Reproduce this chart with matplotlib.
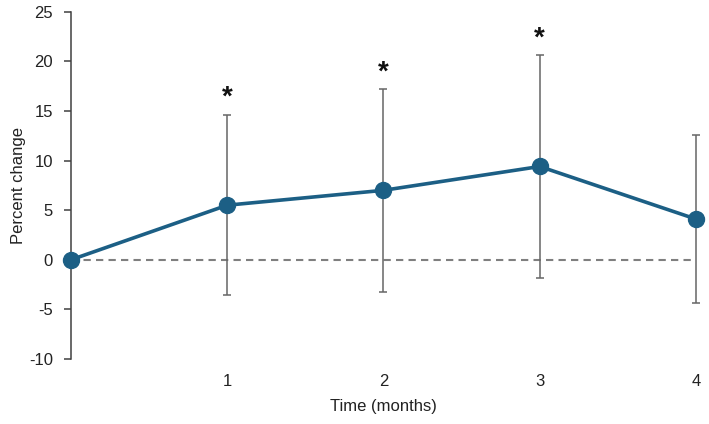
import numpy as np
import matplotlib
matplotlib.use("Agg")
import matplotlib.pyplot as plt

plt.rcParams['font.family'] = ['Liberation Sans', 'DejaVu Sans']
plt.rcParams['axes.unicode_minus'] = False

# data
months = [0, 1, 2, 3, 4]
pct_change = [0.0, 5.5, 7.0, 9.4, 4.1]
err = [0.0, 9.1, 10.2, 11.2, 8.5]
significant = [False, True, True, True, False]
xtick_vals = [1, 2, 3, 4]
ytick_vals = list(range(-10, 30, 5))

line_color = '#1c5f85'
err_color = '#666666'

fig = plt.figure(figsize=(7.09, 4.24), dpi=100)
ax = fig.add_axes([0.1001, 0.1533, 0.8816, 0.8191])

# zero reference line
ax.axhline(0, color='#7f7f7f', lw=1.5, ls=(0, (3.5, 2.5)), zorder=1)

# error bars (behind the line)
ax.errorbar(months[1:], pct_change[1:], yerr=err[1:], fmt='none',
            ecolor=err_color, elinewidth=1.1, capsize=3, capthick=1.1,
            zorder=2, clip_on=False)

ax.plot(months, pct_change, color=line_color, lw=2.6, marker='o',
        markersize=11.5, markerfacecolor=line_color, markeredgecolor=line_color,
        zorder=3, clip_on=False)

# significance stars above error bars
for x, y, e, sig in zip(months, pct_change, err, significant):
    if sig:
        ax.text(x, y + e + 1.7, '*', ha='center', va='center',
                fontsize=20, fontweight='bold', color='#111111')

ax.set_xlim(0, 4)
ax.set_ylim(-10, 25)
ax.set_xticks(xtick_vals)
ax.set_yticks(ytick_vals)

for s in ['top', 'right', 'bottom']:
    ax.spines[s].set_visible(False)
ax.spines['left'].set_color('#404040')
ax.spines['left'].set_linewidth(1.1)

ax.tick_params(axis='x', length=0, pad=11, labelsize=12, labelcolor='#222222')
ax.tick_params(axis='y', length=5, width=1.1, color='#404040', pad=8,
               labelsize=12, labelcolor='#222222')

ax.set_xlabel('Time (months)', fontsize=12, color='#222222', labelpad=7)
ax.set_ylabel('Percent change', fontsize=12, color='#222222', labelpad=2)

fig.savefig('out.png', dpi=100)
